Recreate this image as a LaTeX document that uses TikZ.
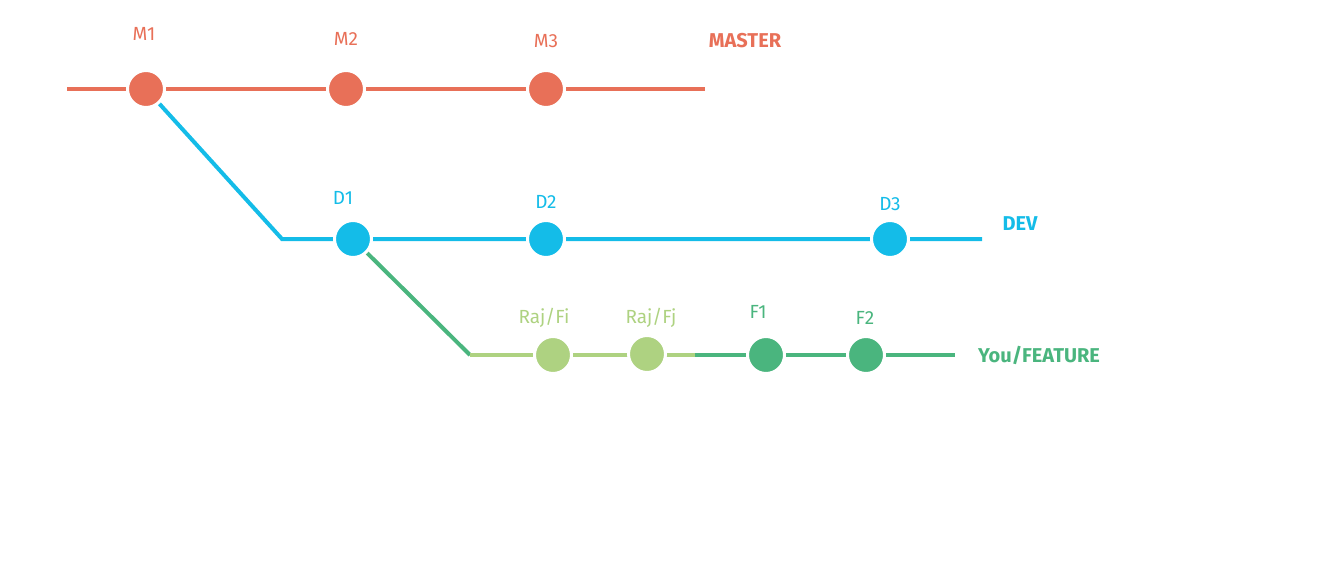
\documentclass[tikz,border=0pt]{standalone}
\usepackage{fontspec}
\setmainfont{Fira Sans}
\definecolor{colM}{HTML}{E87058}
\definecolor{colD}{HTML}{14BCE8}
\definecolor{colF}{HTML}{4AB57E}
\definecolor{colL}{HTML}{AED281}
\begin{document}
\begin{tikzpicture}[x=1pt,y=-1pt,
  commit/.style={circle,minimum size=37pt,inner sep=0pt,draw=white,line width=3pt},
  lbl/.style={font=\fontsize{19}{19}\selectfont},
  blbl/.style={font=\fontsize{20}{20}\selectfont\bfseries},
  br/.style={line width=4pt}]
\useasboundingbox (0,0) rectangle (1322,567);
% master
\coordinate (ms) at (67,89);
\coordinate (me) at (705,89);
\coordinate (m1) at (146,89);
\coordinate (m2) at (346,89);
\coordinate (m3) at (546,89);
% dev
\coordinate (dc) at (282,239);
\coordinate (de) at (982,239);
\coordinate (d1) at (353,239);
\coordinate (d2) at (546,239);
\coordinate (d3) at (890,239);
% feature
\coordinate (fc) at (470,355);
\coordinate (fm) at (695,355);
\coordinate (fe) at (955,355);
\coordinate (r1) at (553,355);
\coordinate (r2) at (647,354);
\coordinate (f1) at (766,355);
\coordinate (f2) at (866,355);
% branch lines
\draw[br,colM] (ms) -- (me);
\draw[br,colD] (m1) -- (dc) -- (de);
\draw[br,colF] (d1) -- (fc);
\draw[br,colL] (fc) -- (fm);
\draw[br,colF] (fm) -- (fe);
% commits
\foreach \n/\c in {m1/colM,m2/colM,m3/colM,d1/colD,d2/colD,d3/colD,r1/colL,r2/colL,f1/colF,f2/colF}
  \node[commit,fill=\c] (c\n) at (\n) {};
% labels
\node[lbl,text=colM] (lm1) at (144,34) {M1};
\node[lbl,text=colM] (lm2) at (346,39) {M2};
\node[lbl,text=colM] (lm3) at (546,41) {M3};
\node[blbl,text=colM] (lmaster) at (745,41) {MASTER};
\node[lbl,text=colD] (ld1) at (343,198) {D1};
\node[lbl,text=colD] (ld2) at (546,202) {D2};
\node[lbl,text=colD] (ld3) at (890,204) {D3};
\node[blbl,text=colD] (ldev) at (1020,224) {DEV};
\node[lbl,text=colL] (lr1) at (544,318) {Raj/Fi};
\node[lbl,text=colL] (lr2) at (651,318) {Raj/Fj};
\node[lbl,text=colF] (lf1) at (758,312) {F1};
\node[lbl,text=colF] (lf2) at (865,318) {F2};
\node[blbl,text=colF] (lfeat) at (1039,355) {You/FEATURE};
\end{tikzpicture}
\end{document}
